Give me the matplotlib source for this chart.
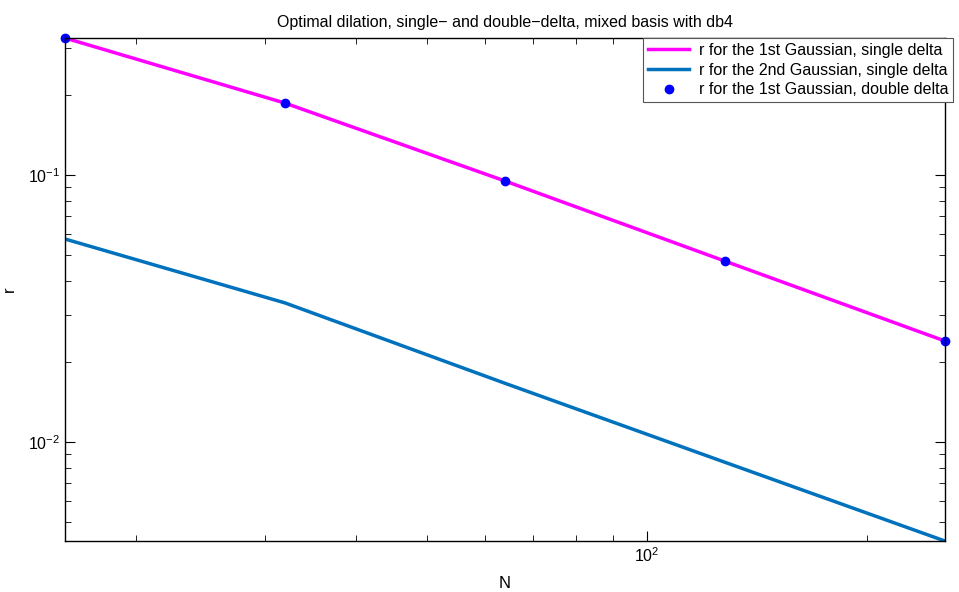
import numpy as np
import matplotlib
matplotlib.use('Agg')
import matplotlib.pyplot as plt

plt.rcParams['font.family'] = ['Liberation Sans', 'DejaVu Sans']

N = [16, 32, 64, 128, 256]
r_first_single = [0.326, 0.186, 0.095, 0.0476, 0.0239]
r_second_single = [0.0576, 0.0332, 0.0166, 0.0084, 0.00426]
r_first_double = [0.326, 0.186, 0.095, 0.0476, 0.0239]

fig = plt.figure(figsize=(9.59, 5.92), dpi=100)
ax = fig.add_axes([0.0678, 0.0861, 0.9176, 0.8497])

ax.loglog(N, r_first_single, color='#FF00FF', lw=2.5, label='r for the 1st Gaussian, single delta')
ax.loglog(N, r_second_single, color='#0072BD', lw=2.5, label='r for the 2nd Gaussian, single delta')
ax.loglog(N, r_first_double, 'o', color='#0000FF', ms=6, clip_on=False,
          label='r for the 1st Gaussian, double delta')

ax.set_xlim(16, 256)
ax.set_ylim(0.00426, 0.326)
ax.set_xlabel('N', fontsize=12, labelpad=8)
ax.set_ylabel('r', fontsize=12, labelpad=8)
ax.set_title('Optimal dilation, single\u2212 and double\u2212delta, mixed basis with db4',
             fontsize=11.5, pad=8)

ax.tick_params(which='both', direction='in', top=True, right=True, labelsize=11.5)
ax.tick_params(which='major', length=7)
ax.tick_params(which='minor', length=4)
for s in ax.spines.values():
    s.set_linewidth(1)

leg = fig.legend(loc='upper left', bbox_to_anchor=(643 / 959, 0.9358), borderaxespad=0,
                 fancybox=False, framealpha=1, edgecolor='#555555', fontsize=11.5,
                 handlelength=2.6, handletextpad=0.6, borderpad=0.3, labelspacing=0.3)
leg.get_frame().set_linewidth(0.8)

fig.savefig('out.png', dpi=100)
